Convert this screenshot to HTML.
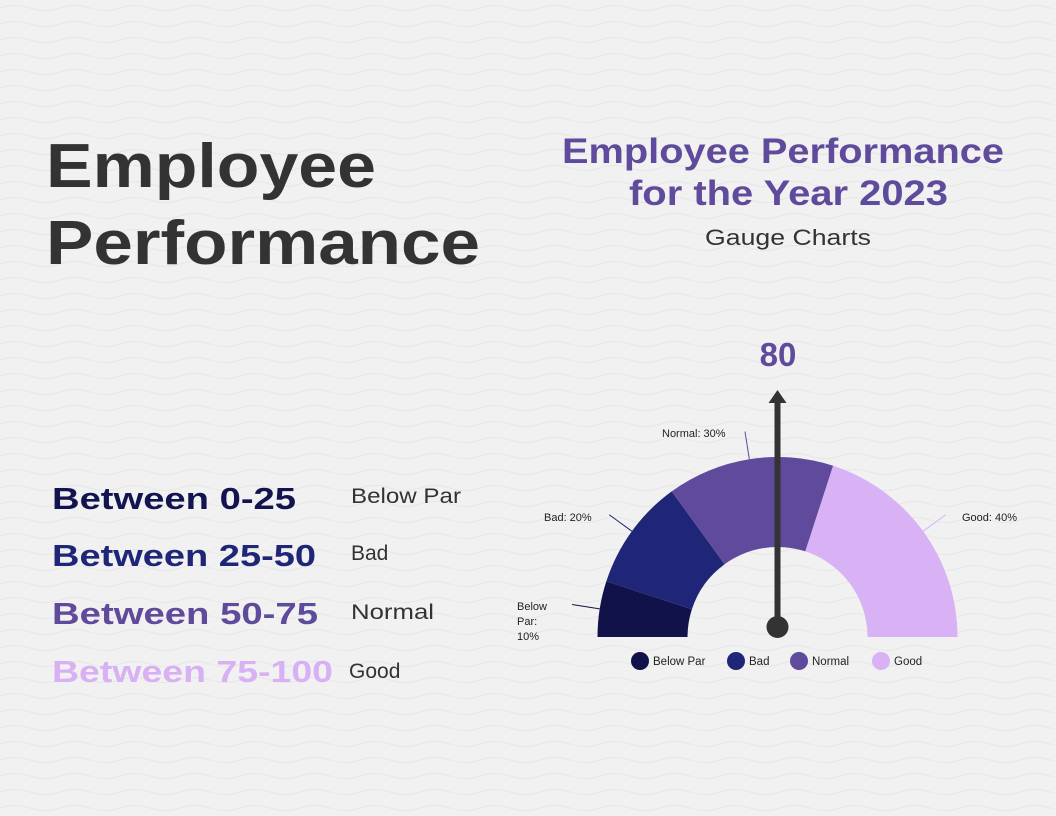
<!DOCTYPE html>
<html><head><meta charset="utf-8"><style>
html,body{margin:0;padding:0;background:#f1f1f1;}
svg{display:block;font-family:"Liberation Sans",sans-serif;}
</style></head><body>
<svg width="1056" height="816" viewBox="0 0 1056 816">
<defs>
<pattern id="waves" width="60" height="16" patternUnits="userSpaceOnUse">
<path d="M0 8 Q15 3 30 8 T60 8" fill="none" stroke="#e7e7e7" stroke-width="1.1"/>
</pattern>
</defs>
<rect width="1056" height="816" fill="#f1f1f1"/>
<rect width="1056" height="816" fill="url(#waves)"/>

<g fill="#333" font-weight="bold" font-size="62">
<text x="46" y="187" textLength="330" lengthAdjust="spacingAndGlyphs">Employee</text>
<text x="46" y="264" textLength="434" lengthAdjust="spacingAndGlyphs">Performance</text>
</g>

<g text-anchor="start">
<text x="562" y="163" font-size="35" font-weight="bold" fill="#5f4a9b" textLength="442" lengthAdjust="spacingAndGlyphs">Employee Performance</text>
<text x="629" y="205" font-size="35" font-weight="bold" fill="#5f4a9b" textLength="319" lengthAdjust="spacingAndGlyphs">for the Year 2023</text>
<text x="705" y="245" font-size="22" fill="#333" textLength="166" lengthAdjust="spacingAndGlyphs">Gauge Charts</text>
</g>

<g font-weight="bold" font-size="31">
<text x="52" y="509" fill="#12144f" textLength="244" lengthAdjust="spacingAndGlyphs">Between 0-25</text>
<text x="52" y="566" fill="#1f2677" textLength="264" lengthAdjust="spacingAndGlyphs">Between 25-50</text>
<text x="52" y="624" fill="#5f4a9b" textLength="266" lengthAdjust="spacingAndGlyphs">Between 50-75</text>
<text x="52" y="682" fill="#d8b0f4" textLength="281" lengthAdjust="spacingAndGlyphs">Between 75-100</text>
</g>
<g font-size="21" fill="#333">
<text x="351" y="503" textLength="110" lengthAdjust="spacingAndGlyphs">Below Par</text>
<text x="351" y="560">Bad</text>
<text x="351" y="619" textLength="83" lengthAdjust="spacingAndGlyphs">Normal</text>
<text x="349" y="678">Good</text>
</g>

<g id="gauge"></g>
<text x="778" y="366" text-anchor="middle" font-size="33" font-weight="bold" fill="#5f4a9b">80</text>

<script>
const categories = ["Below Par","Bad","Normal","Good"];
const shares = [10,20,30,40];
const colors = ["#11124a","#1f2677","#5f4a9b","#d8b2f5"];
const labelText = ["Below Par: 10%","Bad: 20%","Normal: 30%","Good: 40%"];
const needleValue = 50;

const NS="http://www.w3.org/2000/svg";
const g=document.getElementById('gauge');
const cx=777.5, cy=637, R=180, r=90;
const total=shares.reduce((a,b)=>a+b,0);
function ang(v){return Math.PI - (v/total)*Math.PI;}
function pt(a,rad){return [cx+rad*Math.cos(a), cy-rad*Math.sin(a)];}
let acc=0;
const labelPos=[[517,610,"start"],[544,521,"start"],[662,437,"start"],[962,521,"start"]];
shares.forEach((s,i)=>{
  const a0=ang(acc), a1=ang(acc+s); acc+=s;
  const p0=pt(a0,R),p1=pt(a1,R),q1=pt(a1,r),q0=pt(a0,r);
  const large=(a0-a1)>Math.PI?1:0;
  const p=document.createElementNS(NS,'path');
  p.setAttribute('d',`M${p0[0]} ${p0[1]} A${R} ${R} 0 ${large} 1 ${p1[0]} ${p1[1]} L${q1[0]} ${q1[1]} A${r} ${r} 0 ${large} 0 ${q0[0]} ${q0[1]} Z`);
  p.setAttribute('fill',colors[i]);
  
  
  g.appendChild(p);
  const am=(a0+a1)/2; const e=pt(am,R), o=pt(am,R+28);
  const l=document.createElementNS(NS,'line');
  l.setAttribute('x1',e[0]);l.setAttribute('y1',e[1]);l.setAttribute('x2',o[0]);l.setAttribute('y2',o[1]);
  l.setAttribute('stroke',colors[i]);l.setAttribute('stroke-width','1');
  
  
  g.appendChild(l);
  const t=document.createElementNS(NS,'text');
  t.setAttribute('font-size','11');t.setAttribute('fill','#222');
  const lp=labelPos[i];
  t.setAttribute('x',lp[0]);t.setAttribute('y',lp[1]);
  if(i===0){
    ["Below","Par:","10%"].forEach((w,k)=>{const ts=document.createElementNS(NS,'tspan');ts.setAttribute('x',lp[0]);ts.setAttribute('dy',k?15:0);ts.textContent=w;t.appendChild(ts);});
  } else t.textContent=labelText[i];
  
  
  g.appendChild(t);
});
// needle
const na=ang(needleValue);
const tip=pt(na,236);
const nl=document.createElementNS(NS,'line');
nl.setAttribute('x1',cx);nl.setAttribute('y1',cy-10);nl.setAttribute('x2',tip[0]);nl.setAttribute('y2',tip[1]+1);
nl.setAttribute('stroke','#333');nl.setAttribute('stroke-width','6');


g.appendChild(nl);
const head=document.createElementNS(NS,'polygon');
head.setAttribute('points',`${tip[0]},${tip[1]-11} ${tip[0]-9},${tip[1]+2} ${tip[0]+9},${tip[1]+2}`);
head.setAttribute('fill','#333');


g.appendChild(head);
const hub=document.createElementNS(NS,'circle');
hub.setAttribute('cx',cx);hub.setAttribute('cy',cy-10);hub.setAttribute('r','11');hub.setAttribute('fill','#333');


g.appendChild(hub);
// legend
const lx=[640,736,799,881];
categories.forEach((c,i)=>{
  const ci=document.createElementNS(NS,'circle');
  ci.setAttribute('cx',lx[i]);ci.setAttribute('cy',661);ci.setAttribute('r','9');ci.setAttribute('fill',colors[i]);
  
  
  g.appendChild(ci);
  const t=document.createElementNS(NS,'text');
  t.setAttribute('x',lx[i]+13);t.setAttribute('y',665);t.setAttribute('font-size','11.5');t.setAttribute('fill','#222');
  t.textContent=c;
  
  
  g.appendChild(t);
});
</script>
</svg>
</body></html>
